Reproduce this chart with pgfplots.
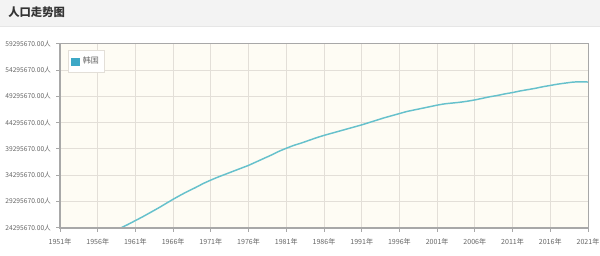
\documentclass[border=0pt]{standalone}
\usepackage{fontspec}
\setmainfont{Noto Sans CJK SC}
\usepackage{pgfplots}
\pgfplotsset{compat=1.18}
\definecolor{barbg}{HTML}{F3F3F3}
\definecolor{barline}{HTML}{E6E6E6}
\definecolor{plotbg}{HTML}{FEFCF4}
\definecolor{gridc}{HTML}{E3DFD8}
\definecolor{axisc}{HTML}{A8A8A8}
\definecolor{labc}{HTML}{666666}
\definecolor{linec}{HTML}{66C1CC}
\definecolor{legc}{HTML}{3DA8C6}
\definecolor{titlec}{HTML}{333333}
\begin{document}
\begin{tikzpicture}
\fill[white] (0,0) rectangle (450pt,191.25pt);
\useasboundingbox (0,0) rectangle (450pt,191.25pt);
\fill[barbg] (0,171.75pt) rectangle (450pt,191.25pt);
\draw[barline,line width=0.6pt] (0,171.75pt) -- (450pt,171.75pt);
\node[anchor=west,inner sep=0pt,text=titlec,font=\fontsize{8.5}{10}\selectfont\bfseries] at (6pt,182pt) {人口走势图};
\begin{axis}[
  name=ax,
  at={(45pt,20.5pt)}, anchor=south west,
  scale only axis, width=396pt, height=138pt,
  xmin=1951, xmax=2021,
  ymin=24295670, ymax=59295670,
  axis background/.style={fill=plotbg},
  axis line style={draw=axisc,line width=0.6pt},
  grid=major,
  major grid style={draw=gridc,line width=0.6pt},
  xtick={1951,1956,1961,1966,1971,1976,1981,1986,1991,1996,2001,2006,2011,2016,2021},
  xticklabels={1951年,1956年,1961年,1966年,1971年,1976年,1981年,1986年,1991年,1996年,2001年,2006年,2011年,2016年,2021年},
  ytick={24295670,29295670,34295670,39295670,44295670,49295670,54295670,59295670},
  yticklabels={24295670.00人,29295670.00人,34295670.00人,39295670.00人,44295670.00人,49295670.00人,54295670.00人,59295670.00人},
  scaled y ticks=false,
  tick align=outside,
  xtick pos=bottom, ytick pos=left,
  major tick length=3pt,
  tick style={draw=axisc,line width=0.6pt},
  ticklabel style={font=\fontsize{5}{6}\selectfont, text=labc},
  xticklabel style={font=\fontsize{5.3}{6}\selectfont, yshift=-1.5pt},
  yticklabel style={xshift=-0.3pt},
  legend style={at={(0.015,0.964)},anchor=north west,draw=gridc,fill=white,
    font=\fontsize{6}{7}\selectfont, text=labc, inner xsep=2pt, inner ysep=3pt,
    legend cell align=left, /tikz/every even column/.append style={column sep=6pt}},
  legend image code/.code={\fill[legc] (0pt,-2.4pt) rectangle (6pt,2.4pt);},
  clip=true,
]
\addplot[linec, line width=1.1pt, smooth, tension=0.4] coordinates {
(1955,21500000) (1957,22700000) (1958,23500000) (1959,24200000) (1960,24900000)
(1961,25650000) (1962,26400000) (1963,27200000) (1964,28000000) (1965,28850000)
(1966,29700000) (1967,30500000) (1968,31250000) (1969,31950000) (1970,32700000)
(1971,33350000) (1972,33950000) (1973,34500000) (1974,35050000) (1975,35600000)
(1976,36150000) (1977,36800000) (1978,37450000) (1979,38100000) (1980,38800000)
(1981,39400000) (1982,39950000) (1983,40400000) (1984,40900000) (1985,41400000)
(1986,41850000) (1987,42250000) (1988,42650000) (1989,43050000) (1990,43450000)
(1991,43850000) (1992,44300000) (1993,44750000) (1994,45200000) (1995,45600000)
(1996,46000000) (1997,46400000) (1998,46700000) (1999,47000000) (2000,47300000)
(2001,47600000) (2002,47850000) (2003,48000000) (2004,48150000) (2005,48350000)
(2006,48600000) (2007,48900000) (2008,49200000) (2009,49450000) (2010,49750000)
(2011,50000000) (2012,50300000) (2013,50550000) (2014,50800000) (2015,51100000)
(2016,51350000) (2017,51600000) (2018,51800000) (2019,51980000) (2020,52050000)
(2021,52000000)
};
\addlegendentry{韩国}
\end{axis}
\draw[axisc,line width=1.5pt] (ax.north west) -- (ax.south west) -- (ax.south east);
\end{tikzpicture}
\end{document}
